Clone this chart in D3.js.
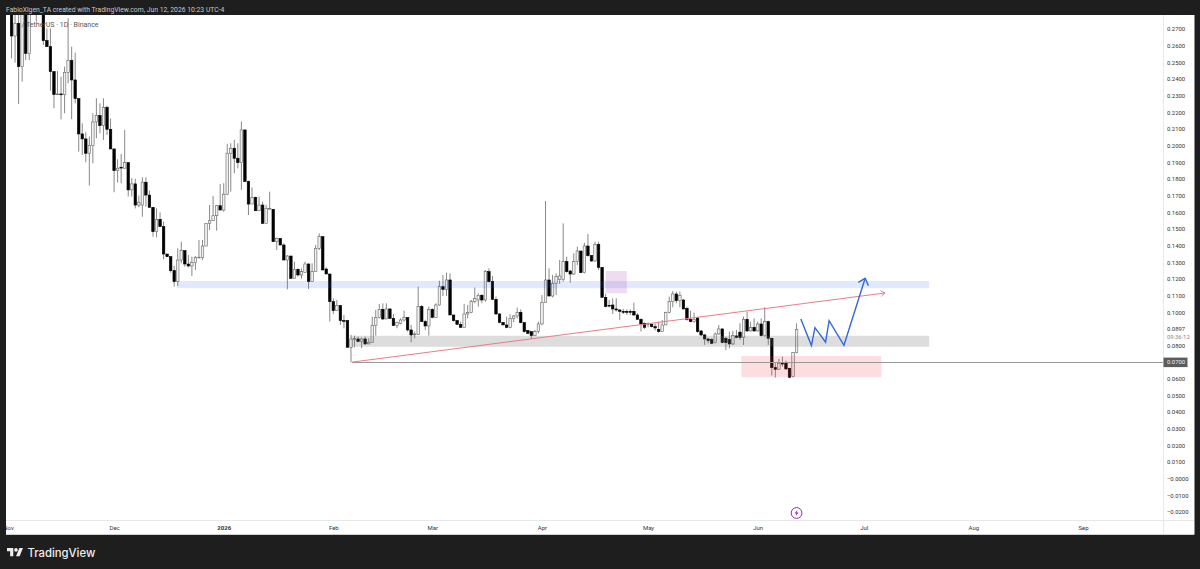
<!DOCTYPE html>
<html>
<head>
<meta charset="utf-8">
<script src="https://cdn.jsdelivr.net/npm/d3@7"></script>
<style>
  html, body { margin: 0; padding: 0; background: #1e1e1e; overflow: hidden; }
  svg { display: block; }
  text { font-family: Roboto, "Open Sans", sans-serif; }
</style>
</head>
<body>
<script>
// daily candles, first one is Nov 1 2025, one value per day
const firstDay = Date.UTC(2025, 10, 1);
const opens = [
  .2920,.2850,.2658,.2734,.2474,.2850,.2554,.2900,.2850,.2880,
  .2900,.2630,.2594,.2444,.2306,.2310,.2306,.2440,.2510,.2394,
  .2282,.2070,.2040,.1954,.2000,.2142,.2180,.2120,.2230,.2098,
  .1980,.1850,.1870,.1864,.1898,.1734,.1770,.1643,.1643,.1780,
  .1703,.1629,.1483,.1557,.1513,.1349,.1333,.1249,.1183,.1313,
  .1369,.1289,.1277,.1297,.1327,.1327,.1397,.1533,.1549,.1579,
  .1639,.1613,.1708,.1954,.1984,.1924,.1898,.2094,.1784,.1649,
  .1689,.1609,.1643,.1533,.1623,.1617,.1423,.1443,.1403,.1313,
  .1337,.1203,.1257,.1223,.1237,.1289,.1183,.1243,.1383,.1453,
  .1259,.1229,.1063,.1009,.1039,.0949,.0949,.0789,.0839,.0839,
  .0823,.0839,.0809,.0819,.0919,.0969,.1017,.0959,.1019,.0963,
  .0919,.0933,.0953,.0967,.0893,.0869,.0867,.1033,.0943,.0917,
  .1017,.0969,.1043,.1153,.1137,.1193,.0983,.0949,.0927,.0909,
  .0989,.0997,.1063,.1073,.1101,.1073,.1243,.1183,.1077,.0989,
  .0939,.0923,.0909,.0963,.0977,.0999,.0937,.0889,.0883,.0859,
  .0883,.0929,.1059,.1193,.1097,.1173,.1197,.1197,.1303,.1247,
  .1229,.1303,.1367,.1237,.1397,.1339,.1307,.1407,.1269,.1089,
  .1041,.1043,.1019,.1013,.1005,.1005,.1005,.1005,.0983,.0957,
  .0933,.0927,.0927,.0913,.0897,.0883,.0923,.0999,.1063,.1109,
  .1069,.1073,.1023,.0957,.0943,.0965,.0887,.0863,.0839,.0835,
  .0817,.0869,.0899,.0843,.0837,.0809,.0857,.0880,.0847,.0957,
  .0887,.0909,.0887,.0929,.0859,.0943,.0843,.0667,.0657,.0693,
  .0695,.0663,.0613,.0757];
const highs = [
  .3000,.2900,.2850,.2800,.2950,.2900,.2900,.2960,.2920,.2950,
  .2960,.2704,.2704,.2444,.2448,.2414,.2474,.2764,.2594,.2558,
  .2282,.2134,.2080,.2054,.2194,.2284,.2254,.2284,.2240,.2162,
  .1980,.1918,.1950,.2094,.1898,.1804,.1800,.1700,.1810,.1810,
  .1730,.1629,.1623,.1599,.1543,.1349,.1333,.1277,.1383,.1423,
  .1369,.1343,.1333,.1337,.1433,.1433,.1533,.1643,.1697,.1643,
  .1769,.1774,.2010,.2014,.2034,.2014,.2144,.2094,.1790,.1749,
  .1693,.1693,.1663,.1643,.1723,.1620,.1449,.1443,.1413,.1343,
  .1337,.1303,.1263,.1263,.1303,.1293,.1293,.1403,.1473,.1453,
  .1269,.1229,.1083,.1073,.1043,.0983,.0953,.0863,.0859,.0853,
  .0847,.0853,.0843,.0973,.1013,.1049,.1053,.1053,.1023,.0989,
  .0943,.0963,.1009,.0969,.0923,.0883,.1153,.1043,.0953,.1033,
  .1023,.1053,.1189,.1223,.1237,.1233,.0983,.0953,.0943,.1049,
  .1043,.1073,.1147,.1113,.1109,.1253,.1263,.1217,.1093,.0993,
  .0939,.0973,.0987,.0983,.1027,.1017,.0937,.0893,.0883,.0893,
  .0943,.1103,.1667,.1263,.1223,.1233,.1313,.1533,.1333,.1253,
  .1353,.1393,.1367,.1417,.1469,.1343,.1423,.1423,.1269,.1109,
  .1073,.1083,.1083,.1017,.1019,.1017,.1017,.1057,.0993,.0963,
  .0939,.0939,.0933,.0933,.0943,.0953,.1003,.1093,.1127,.1123,
  .1123,.1077,.1033,.1009,.0997,.0973,.0893,.0869,.0843,.0843,
  .0877,.0923,.0903,.0853,.0883,.0887,.0893,.0933,.0973,.1003,
  .0943,.0963,.0943,.0963,.1029,.0949,.0843,.0693,.0719,.0733,
  .0709,.0663,.0757,.0933];
const lows = [
  .2830,.2524,.2498,.2250,.2384,.2514,.2514,.2800,.2744,.2810,
  .2604,.2594,.2330,.2224,.2306,.2158,.2194,.2374,.2158,.2254,
  .1964,.1944,.1900,.1760,.1894,.2044,.2074,.2034,.2064,.1980,
  .1720,.1778,.1774,.1864,.1694,.1694,.1623,.1630,.1573,.1633,
  .1629,.1453,.1449,.1513,.1317,.1333,.1237,.1153,.1157,.1293,
  .1273,.1269,.1217,.1253,.1327,.1313,.1397,.1493,.1549,.1489,
  .1613,.1603,.1703,.1724,.1834,.1864,.1734,.1784,.1583,.1649,
  .1609,.1609,.1533,.1533,.1617,.1423,.1373,.1403,.1313,.1137,
  .1203,.1203,.1213,.1201,.1237,.1139,.1183,.1243,.1373,.1253,
  .1229,.0943,.0989,.1009,.0923,.0903,.0789,.0699,.0789,.0823,
  .0783,.0803,.0809,.0819,.0859,.0963,.0953,.0959,.0959,.0917,
  .0903,.0927,.0943,.0883,.0819,.0843,.0863,.0943,.0893,.0859,
  .0963,.0969,.1039,.1097,.1097,.0983,.0943,.0923,.0907,.0909,
  .0963,.0993,.1053,.1033,.1053,.1063,.1177,.1073,.0983,.0933,
  .0923,.0903,.0903,.0939,.0963,.0933,.0877,.0869,.0839,.0859,
  .0873,.0923,.1059,.1093,.1089,.1103,.1169,.1183,.1237,.1177,
  .1223,.1283,.1237,.1233,.1333,.1303,.1303,.1253,.1089,.1029,
  .1029,.0989,.1003,.0953,.0989,.0983,.0983,.0977,.0953,.0883,
  .0899,.0909,.0909,.0889,.0877,.0883,.0923,.0993,.1029,.1053,
  .1029,.1017,.0949,.0939,.0937,.0877,.0857,.0803,.0813,.0809,
  .0813,.0863,.0813,.0773,.0783,.0803,.0843,.0833,.0803,.0883,
  .0883,.0883,.0883,.0853,.0849,.0803,.0619,.0607,.0653,.0673,
  .0653,.0603,.0609,.0753];
const closes = [
  .2900,.2658,.2734,.2474,.2850,.2554,.2830,.2850,.2880,.2900,
  .2630,.2594,.2444,.2306,.2310,.2306,.2440,.2510,.2394,.2282,
  .2070,.2040,.1954,.2000,.2142,.2180,.2120,.2230,.2098,.1980,
  .1850,.1864,.1866,.1898,.1734,.1770,.1643,.1660,.1780,.1703,
  .1629,.1483,.1557,.1513,.1349,.1333,.1249,.1183,.1313,.1369,
  .1289,.1277,.1297,.1327,.1330,.1397,.1533,.1549,.1579,.1639,
  .1613,.1708,.1954,.1984,.1924,.1898,.2094,.1784,.1649,.1689,
  .1609,.1643,.1533,.1623,.1623,.1423,.1443,.1403,.1313,.1337,
  .1203,.1257,.1223,.1243,.1289,.1183,.1243,.1383,.1453,.1253,
  .1229,.1063,.1009,.1039,.0949,.0945,.0789,.0839,.0841,.0823,
  .0839,.0809,.0819,.0919,.0969,.1017,.0959,.1019,.0963,.0919,
  .0939,.0953,.0967,.0893,.0863,.0869,.1033,.0943,.0917,.1017,
  .0969,.1043,.1153,.1137,.1193,.0983,.0949,.0927,.0909,.0989,
  .0997,.1063,.1083,.1101,.1073,.1243,.1183,.1077,.0989,.0939,
  .0923,.0909,.0963,.0977,.0999,.0937,.0883,.0873,.0859,.0883,
  .0929,.1059,.1193,.1097,.1173,.1213,.1217,.1303,.1243,.1229,
  .1303,.1367,.1237,.1397,.1339,.1307,.1407,.1269,.1089,.1033,
  .1037,.1019,.1013,.1005,.0999,.0999,.0999,.0983,.0957,.0929,
  .0909,.0933,.0913,.0905,.0883,.0923,.0999,.1063,.1109,.1069,
  .1099,.1019,.0957,.0943,.0957,.0883,.0863,.0839,.0829,.0813,
  .0869,.0899,.0817,.0817,.0809,.0859,.0849,.0847,.0957,.0887,
  .0909,.0887,.0929,.0859,.0943,.0843,.0667,.0657,.0693,.0691,
  .0659,.0609,.0757,.0897];

const priceTicks = [.27,.26,.25,.24,.23,.22,.21,.20,.19,.18,.17,.16,.15,.14,.13,.12,.11,.10,.08,.06,.05,.04,.03,.02,.01,0,-.01,-.02];
const monthTicks = [[2025,10,"Nov"],[2025,11,"Dec"],[2026,0,"2026"],[2026,1,"Feb"],[2026,2,"Mar"],[2026,3,"Apr"],[2026,4,"May"],[2026,5,"Jun"],[2026,6,"Jul"],[2026,7,"Aug"],[2026,8,"Sep"]];

// drawings: from day, to day, upper price, lower price
const zoneDays = [[47.8,260.5],[97,260.5],[207.4,247],[169,175]];
const zonePrices = [[.1187,.1144],[.0858,.0792],[.0736,.0609],[.1247,.1113]];
const zoneColors = ["rgba(41,98,255,.14)","rgba(110,110,110,.23)","rgba(242,54,69,.17)","rgba(156,39,176,.16)"];
const trendDays = [97.3,248];
const trendPrices = [.07,.1115];
const pathDays = [224.2,227.2,228.2,231.2,232.2,236.4,242.4];
const pathPrices = [.0959,.0799,.0907,.0819,.0949,.0801,.1203];
const lastPrice = .0897, levelPrice = .07;

const W = 1200, H = 569;
const day = d => new Date(firstDay + d * 864e5);

const x = d3.scaleUtc().domain([day(0), new Date(Date.UTC(2026, 8, 1))]).range([8, 1083]);
const y = d3.scaleLinear().domain([.27, -.02]).range([29, 512]);
const px = d => x(day(d));

const svg = d3.select("body").append("svg").attr("width", W).attr("height", H);
svg.append("rect").attr("width", W).attr("height", H).attr("fill", "#1e1e1e");
svg.append("rect").attr("x", 6).attr("y", 15).attr("width", 1188.5).attr("height", 519.5).attr("fill", "#fff");

const defs = svg.append("defs");
defs.append("clipPath").attr("id", "plot").append("rect").attr("x", 6).attr("y", 15).attr("width", 1157).attr("height", 505);
defs.append("clipPath").attr("id", "panel").append("rect").attr("x", 6).attr("y", 15).attr("width", 1157).attr("height", 520);

const plot = svg.append("g").attr("clip-path", "url(#plot)");

// candles
const bars = plot.selectAll("g.bar").data(opens).enter().append("g").attr("class", "bar");
bars.append("line")
  .attr("x1", (d, i) => px(i)).attr("x2", (d, i) => px(i))
  .attr("y1", (d, i) => y(highs[i])).attr("y2", (d, i) => y(lows[i]))
  .attr("stroke", "#6a6a6a").attr("stroke-width", .8);
bars.append("rect")
  .attr("x", (d, i) => px(i) - 1.25)
  .attr("width", 2.5)
  .attr("y", (d, i) => y(Math.max(opens[i], closes[i])))
  .attr("height", (d, i) => Math.max(.8, Math.abs(y(opens[i]) - y(closes[i]))))
  .attr("fill", (d, i) => closes[i] >= opens[i] ? "#f0f0f0" : "#000")
  .attr("stroke", (d, i) => closes[i] >= opens[i] ? "#666" : "#000")
  .attr("stroke-width", .6);

// zones
plot.selectAll("rect.zone").data(zoneDays).enter().append("rect").attr("class", "zone")
  .attr("x", d => px(d[0])).attr("width", d => px(d[1]) - px(d[0]))
  .attr("y", (d, i) => y(zonePrices[i][0]))
  .attr("height", (d, i) => y(zonePrices[i][1]) - y(zonePrices[i][0]))
  .attr("fill", (d, i) => zoneColors[i]);

// level line and trend line
plot.append("line")
  .attr("x1", px(trendDays[0])).attr("x2", 1163)
  .attr("y1", Math.floor(y(levelPrice)) + .5).attr("y2", Math.floor(y(levelPrice)) + .5)
  .attr("stroke", "#999").attr("stroke-width", 1);

const lineGen = d3.line().x(d => d[0]).y(d => d[1]);
const head = (ax, ay, bx, by, len, spread) => {
  const a = Math.atan2(by - ay, bx - ax);
  return [[bx - len * Math.cos(a - spread), by - len * Math.sin(a - spread)], [bx, by],
          [bx - len * Math.cos(a + spread), by - len * Math.sin(a + spread)]];
};
const t0 = [px(trendDays[0]), y(trendPrices[0])], t1 = [px(trendDays[1]), y(trendPrices[1])];
plot.append("path").attr("d", lineGen([t0, t1])).attr("fill", "none").attr("stroke", "#e57f88").attr("stroke-width", 1);
plot.append("path").attr("d", lineGen(head(t0[0], t0[1], t1[0], t1[1], 5, .6))).attr("fill", "none").attr("stroke", "#e57f88").attr("stroke-width", 1);

// blue projection
const pts = pathDays.map((d, i) => [px(d), y(pathPrices[i])]);
plot.append("path").attr("d", lineGen(pts)).attr("fill", "none").attr("stroke", "#3269d8").attr("stroke-width", 1.4).attr("stroke-linejoin", "miter");
const pa = pts[pts.length - 2], pb = pts[pts.length - 1];
plot.append("path").attr("d", lineGen(head(pa[0], pa[1], pb[0], pb[1], 8, .72))).attr("fill", "none").attr("stroke", "#3269d8").attr("stroke-width", 1.4);

// frame lines of the scales
svg.append("line").attr("x1", 6).attr("x2", 1194).attr("y1", 520.5).attr("y2", 520.5).attr("stroke", "#e8e8e8").attr("stroke-width", 1);
svg.append("line").attr("x1", 1163.5).attr("x2", 1163.5).attr("y1", 15).attr("y2", 534).attr("stroke", "#e8e8e8").attr("stroke-width", 1);
svg.append("line").attr("x1", 6).attr("x2", 1194).attr("y1", 534.5).attr("y2", 534.5).attr("stroke", "#cfcfcf").attr("stroke-width", 1);

// price axis
const yAxis = d3.axisRight(y).tickValues(priceTicks).tickSize(0).tickPadding(0)
  .tickFormat(d => (d < 0 || d === 0 ? "\u2212" : "") + Math.abs(d).toFixed(4));
const yG = svg.append("g").attr("transform", "translate(1167,0)").call(yAxis);
yG.select(".domain").remove();
yG.selectAll("text").attr("fill", "#333").style("font-size", "5.9px").style("font-family", "Roboto");

// time axis
const xAxis = d3.axisBottom(x).tickValues(monthTicks.map(d => new Date(Date.UTC(d[0], d[1], 1)))).tickSize(0).tickPadding(0)
  .tickFormat((d, i) => monthTicks[i][2]);
const xG = svg.append("g").attr("clip-path", "url(#panel)").append("g").attr("transform", "translate(0,525.5)").call(xAxis);
xG.select(".domain").remove();
xG.selectAll("text").attr("fill", "#333").style("font-size", "6px").style("font-family", "Roboto")
  .style("font-weight", (d, i) => monthTicks[i][2] === "2026" ? "700" : "400");

// last price and level labels
svg.append("text").attr("x", 1167).attr("y", y(lastPrice) + 2).attr("fill", "#333").style("font-size", "5.9px").text(lastPrice.toFixed(4));
svg.append("text").attr("x", 1167).attr("y", y(lastPrice) + 10).attr("fill", "#888").style("font-size", "5.9px").text("09:36:12");
svg.append("rect").attr("x", 1163.5).attr("y", y(levelPrice) - 4.5).attr("width", 24).attr("height", 9.5).attr("fill", "#5c5c5c");
svg.append("text").attr("x", 1167).attr("y", y(levelPrice) + 2.2).attr("fill", "#eee").style("font-size", "5.9px").text(levelPrice.toFixed(4));

// texts
svg.append("text").attr("x", 6).attr("y", 11.5).attr("fill", "#c9c9c9").style("font-size", "6.8px")
  .text("FabioXlgen_TA created with TradingView.com, Jun 12, 2026 10:23 UTC-4");
svg.append("text").attr("x", 21.5).attr("y", 26.5).attr("fill", "#555").style("font-size", "7px")
  .text("/ TetherUS \u00b7 1D \u00b7 Binance");

// purple mark on the time line
const mark = svg.append("g").attr("transform", `translate(${px(223)},513)`);
mark.append("circle").attr("r", 5.4).attr("fill", "#fff").attr("stroke", "#9c27b0").attr("stroke-width", 1);
mark.append("path").attr("d", "M.9,-3.2 L-1.9,.5 L-.2,.5 L-.9,3.2 L1.9,-.5 L.2,-.5 Z").attr("fill", "#9c27b0");

// logo
const logo = svg.append("g").attr("transform", "translate(7,546.3) scale(.45)").attr("fill", "#eee");
logo.append("path").attr("d", "M14 22H7V11H0V4h14v18zM28 22h-8l7.5-18h8L28 22z");
logo.append("circle").attr("cx", 20).attr("cy", 8).attr("r", 4);
svg.append("text").attr("x", 27.5).attr("y", 556.5).attr("fill", "#eee").style("font-size", "11.3px").style("font-family", "Inter").style("font-weight", "500").text("TradingView");
</script>
</body>
</html>
